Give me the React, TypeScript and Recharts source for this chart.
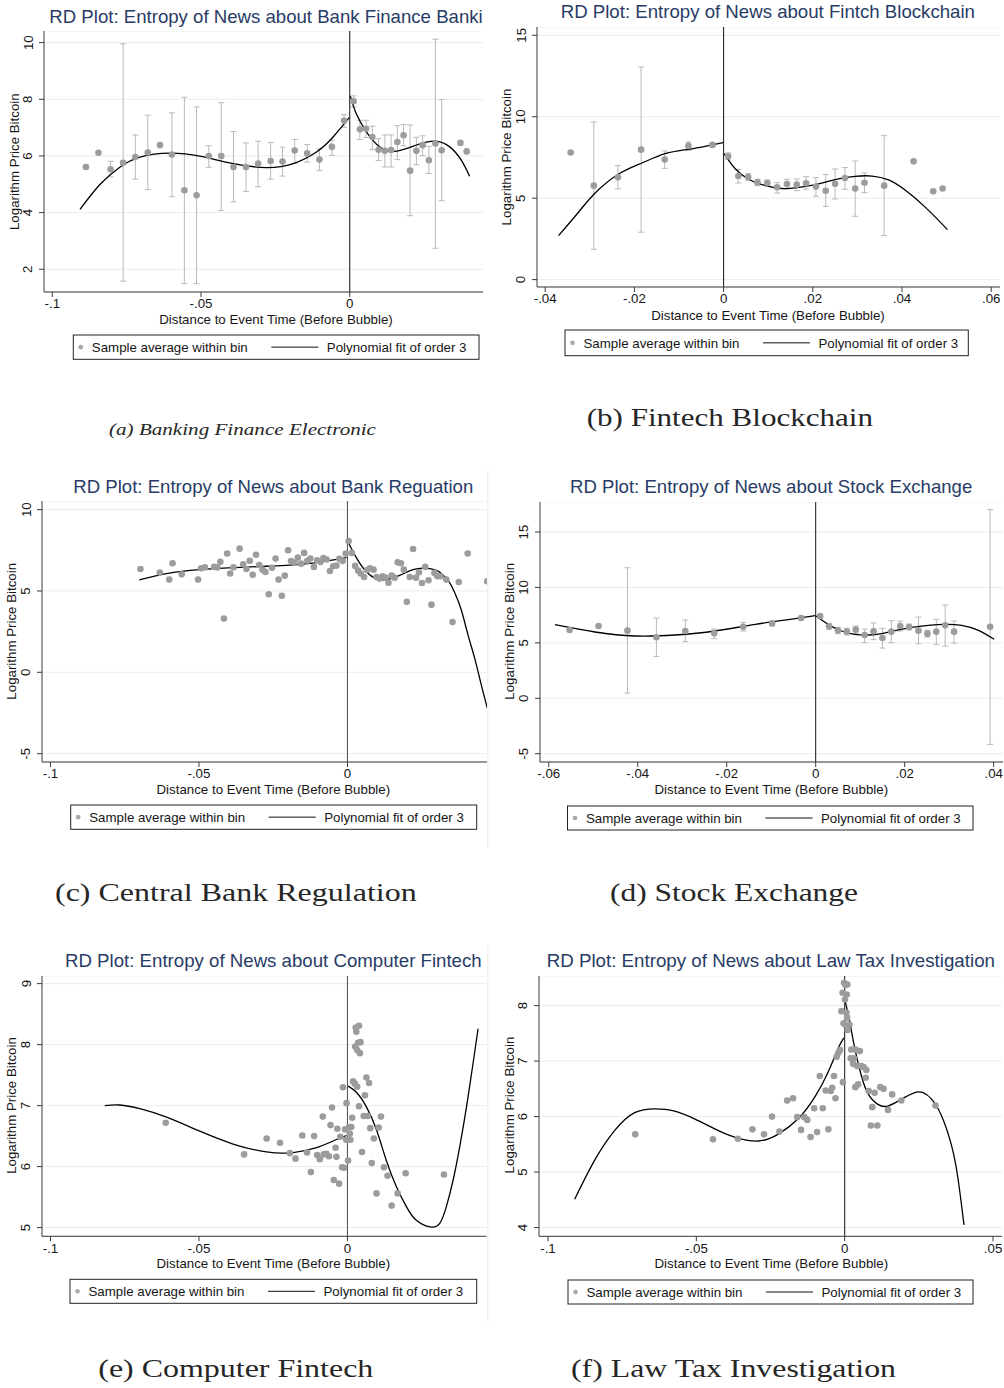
import React from "react";
import {
  ComposedChart,
  Scatter,
  Line,
  XAxis,
  YAxis,
  CartesianGrid,
  ReferenceLine,
  ErrorBar,
} from "recharts";

const SANS = "'Liberation Sans', Arial, Helvetica, sans-serif";
const SERIF = "'Liberation Serif', 'Times New Roman', serif";
const TITLE_COLOR = "#283b66";
const DOT = "#9c9c9c";
const CI = "#b9b9b9";
const AXIS = "#3a3a3a";
const GRID = "#e6eef0";
const TEXT = "#161616";

const X_TITLE = "Distance to Event Time (Before Bubble)";
const Y_TITLE = "Logarithm Price Bitcoin";
const LEGEND_DOT = "Sample average within bin";
const LEGEND_FIT = "Polynomial fit of order 3";

// ---------- (a) Banking Finance Electronic ----------
const aTitle = "RD Plot: Entropy of News about Bank Finance Banki";
const aCaption = "(a) Banking Finance Electronic";
const aXTicks = [-0.1, -0.05, 0];
const aYTicks = [2, 4, 6, 8, 10];
const aBinX = [-0.0887, -0.0845, -0.0804, -0.0762, -0.0721, -0.0679, -0.0638, -0.0598, -0.0556, -0.0515, -0.0474, -0.0432, -0.0391, -0.0349, -0.0308, -0.0266, -0.0226, -0.0185, -0.0143, -0.0102, -0.006, -0.0019, 0.0013, 0.0034, 0.0055, 0.0076, 0.0097, 0.0118, 0.0139, 0.016, 0.0181, 0.0203, 0.0224, 0.0245, 0.0266, 0.0288, 0.0309, 0.0372, 0.0393];
const aBinY = [5.61, 6.11, 5.53, 5.76, 5.96, 6.12, 6.38, 6.05, 4.79, 4.61, 6.0, 6.0, 5.61, 5.61, 5.73, 5.82, 5.8, 6.19, 6.09, 5.87, 6.32, 7.24, 7.93, 6.94, 6.96, 6.67, 6.22, 6.18, 6.21, 6.49, 6.73, 5.48, 6.18, 6.38, 5.85, 6.44, 6.2, 6.46, 6.16];
const aCiLo = [null, null, 5.26, 1.58, 5.18, 4.81, null, 4.56, 1.49, 1.49, 5.6, 4.07, 4.38, 4.75, 4.91, 5.18, 5.29, 5.73, 5.78, 5.48, 6.02, 7.01, 7.73, 6.58, 6.65, 6.22, 5.84, 5.61, 5.61, 5.87, 6.36, 3.89, 5.69, 6.01, 5.38, 2.74, 4.42, null, null];
const aCiHi = [null, null, 5.81, 9.96, 6.74, 7.44, null, 7.52, 8.07, 7.73, 6.36, 7.88, 6.86, 6.46, 6.52, 6.47, 6.31, 6.58, 6.4, 6.25, 6.56, 7.46, 8.12, 7.26, 7.26, 7.05, 6.61, 6.74, 6.74, 7.07, 7.11, 7.09, 6.66, 6.71, 6.34, 10.12, 7.99, null, null];
const aFitLX = [-0.0907, -0.084, -0.0772, -0.0705, -0.0605, -0.0504, -0.0392, -0.028, -0.019, -0.0112, -0.0056, -0.0002];
const aFitLY = [4.11, 4.99, 5.61, 5.96, 6.1, 5.99, 5.73, 5.59, 5.73, 6.14, 6.67, 7.35];
const aFitRX = [0.0002, 0.0022, 0.0056, 0.009, 0.0134, 0.019, 0.0246, 0.0291, 0.0336, 0.0375, 0.0403];
const aFitRY = [8.11, 7.49, 6.85, 6.41, 6.16, 6.26, 6.46, 6.52, 6.32, 5.85, 5.28];

// ---------- (b) Fintech Blockchain ----------
const bTitle = "RD Plot: Entropy of News about Fintch Blockchain";
const bCaption = "(b) Fintech Blockchain";
const bXTicks = [-0.04, -0.02, 0, 0.02, 0.04, 0.06];
const bYTicks = [0, 5, 10, 15];
const bBinX = [-0.0343, -0.0291, -0.0237, -0.0185, -0.0132, -0.0079, -0.0025, 0.001, 0.0033, 0.0055, 0.0076, 0.0098, 0.012, 0.0142, 0.0164, 0.0185, 0.0207, 0.0229, 0.025, 0.0272, 0.0295, 0.0316, 0.036, 0.0426, 0.047, 0.0491];
const bBinY = [7.8, 5.77, 6.28, 7.98, 7.37, 8.21, 8.27, 7.57, 6.36, 6.3, 5.98, 5.93, 5.67, 5.87, 5.83, 5.91, 5.71, 5.46, 5.89, 6.24, 5.59, 5.95, 5.77, 7.26, 5.42, 5.59];
const bCiLo = [null, 1.86, 5.57, 2.91, 6.83, 7.94, 8.14, 7.39, 5.93, 6.1, 5.77, 5.73, 5.32, 5.57, 5.46, 5.55, 5.12, 4.5, 4.95, 5.55, 3.89, 5.34, 2.7, null, null, null];
const bCiHi = [null, 9.68, 7.0, 13.05, 7.9, 8.45, 8.35, 7.78, 6.77, 6.51, 6.16, 6.12, 5.95, 6.16, 6.18, 6.32, 6.26, 6.45, 6.79, 6.88, 7.28, 6.55, 8.84, null, null, null];
const bFitLX = [-0.037, -0.0325, -0.0288, -0.0236, -0.0183, -0.0131, -0.0079, -0.0034, -0.0001];
const bFitLY = [2.7, 4.15, 5.32, 6.47, 7.16, 7.73, 8.0, 8.23, 8.41];
const bFitRX = [0.0001, 0.0026, 0.0056, 0.0086, 0.0123, 0.0161, 0.0206, 0.025, 0.0295, 0.0333, 0.037, 0.0407, 0.0452, 0.0502];
const bFitRY = [7.73, 6.81, 6.16, 5.83, 5.61, 5.63, 5.83, 6.14, 6.34, 6.36, 6.12, 5.5, 4.45, 3.07];

// ---------- (c) Central Bank Regulation ----------
const cTitle = "RD Plot: Entropy of News about Bank Reguation";
const cCaption = "(c) Central Bank Regulation";
const cXTicks = [-0.1, -0.05, 0];
const cYTicks = [-5, 0, 5, 10];
const cBinX = [-0.0697, -0.0632, -0.06, -0.0589, -0.0558, -0.0503, -0.0493, -0.048, -0.0449, -0.0438, -0.0428, -0.0416, -0.0405, -0.0395, -0.0384, -0.0363, -0.0351, -0.034, -0.0329, -0.0319, -0.0308, -0.0297, -0.0286, -0.0276, -0.0265, -0.0254, -0.0242, -0.0232, -0.0221, -0.0211, -0.02, -0.019, -0.0179, -0.0167, -0.0156, -0.0146, -0.0135, -0.0125, -0.0113, -0.0102, -0.0091, -0.0081, -0.007, -0.0059, -0.0048, -0.0037, -0.0027, -0.0016, -0.0006, 0.0004, 0.0015, 0.0026, 0.0036, 0.0045, 0.0056, 0.0066, 0.0076, 0.0088, 0.0098, 0.0108, 0.0118, 0.0128, 0.0138, 0.0149, 0.0159, 0.0169, 0.018, 0.019, 0.02, 0.021, 0.0221, 0.0231, 0.0241, 0.0251, 0.0262, 0.0273, 0.0283, 0.0293, 0.0303, 0.0313, 0.0333, 0.0354, 0.0375, 0.0405, 0.0471];
const cBinY = [6.35, 6.13, 5.7, 6.7, 6.02, 5.7, 6.39, 6.45, 6.48, 6.45, 6.8, 3.3, 7.3, 6.07, 6.45, 7.6, 6.64, 6.35, 6.86, 6.0, 7.23, 6.6, 6.31, 6.17, 4.8, 6.43, 6.99, 5.7, 4.71, 5.94, 7.5, 6.84, 6.74, 7.05, 6.68, 7.34, 6.86, 6.99, 6.48, 6.89, 6.78, 7.03, 6.93, 6.23, 6.52, 6.56, 6.97, 6.84, 7.3, 8.07, 7.34, 6.54, 6.25, 6.07, 5.86, 6.29, 6.39, 6.31, 5.86, 5.76, 5.9, 5.82, 5.51, 5.94, 5.82, 6.76, 6.7, 6.31, 4.34, 5.86, 7.58, 5.82, 6.15, 5.49, 6.48, 5.66, 4.16, 6.11, 5.9, 5.9, 5.7, 3.09, 5.55, 7.3, 5.59];
const cFitLX = [-0.0701, -0.0609, -0.0497, -0.0385, -0.0273, -0.016, -0.0071, -0.0003];
const cFitLY = [5.68, 6.07, 6.31, 6.43, 6.52, 6.64, 6.84, 7.05];
const cFitRX = [0.0002, 0.003, 0.0064, 0.0098, 0.0131, 0.0176, 0.0221, 0.0262, 0.03, 0.0316, 0.0339, 0.0361, 0.0384, 0.0406, 0.0428, 0.0447, 0.0471];
const cFitRY = [8.01, 7.05, 6.17, 5.76, 5.7, 5.96, 6.31, 6.4, 6.27, 6.07, 5.65, 4.9, 3.8, 2.3, 0.9, -0.5, -2.2];

// ---------- (d) Stock Exchange ----------
const dTitle = "RD Plot: Entropy of News about Stock Exchange";
const dCaption = "(d) Stock Exchange";
const dXTicks = [-0.06, -0.04, -0.02, 0, 0.02, 0.04];
const dYTicks = [-5, 0, 5, 10, 15];
const dBinX = [-0.0553, -0.0488, -0.0423, -0.0358, -0.0293, -0.0228, -0.0163, -0.0098, -0.0033, 0.001, 0.003, 0.005, 0.007, 0.009, 0.011, 0.013, 0.015, 0.017, 0.019, 0.021, 0.0231, 0.0251, 0.0271, 0.0291, 0.0311, 0.0392];
const dBinY = [6.16, 6.52, 6.1, 5.5, 6.07, 5.86, 6.46, 6.76, 7.24, 7.42, 6.49, 6.13, 6.01, 6.19, 5.71, 6.04, 5.44, 6.01, 6.52, 6.43, 6.1, 5.83, 6.01, 6.58, 6.01, 6.46];
const dCiLo = [null, null, 0.47, 3.78, 5.11, 5.38, 6.07, 6.52, 7.09, 7.24, 6.22, 5.83, 5.71, 5.86, 5.02, 5.29, 4.53, 5.02, 6.07, 6.16, 4.92, 5.53, 4.86, 4.71, 4.98, -4.16];
const dCiHi = [null, null, 11.78, 7.24, 7.06, 6.25, 6.85, 6.97, 7.39, 7.57, 6.76, 6.4, 6.31, 6.52, 6.25, 6.79, 6.31, 7.0, 6.97, 6.7, 7.33, 6.13, 7.12, 8.41, 6.97, 17.02];
const dFitLX = [-0.0586, -0.0496, -0.0406, -0.0316, -0.0226, -0.0136, -0.0046, -0.0001];
const dFitLY = [6.64, 5.98, 5.62, 5.71, 6.07, 6.67, 7.18, 7.45];
const dFitRX = [0.0001, 0.0028, 0.0058, 0.0088, 0.0118, 0.0148, 0.0178, 0.0216, 0.0253, 0.0291, 0.0328, 0.0366, 0.0401];
const dFitRY = [7.42, 6.67, 6.07, 5.77, 5.71, 5.83, 6.1, 6.4, 6.58, 6.67, 6.58, 6.13, 5.32];

// ---------- (e) Computer Fintech ----------
const eTitle = "RD Plot: Entropy of News about Computer Fintech";
const eCaption = "(e) Computer Fintech";
const eXTicks = [-0.1, -0.05, 0];
const eYTicks = [5, 6, 7, 8, 9];
const eBinX = [-0.0612, -0.0348, -0.0272, -0.0227, -0.0194, -0.0175, -0.0152, -0.0136, -0.0123, -0.0112, -0.0102, -0.0093, -0.0083, -0.008, -0.0071, -0.0062, -0.0057, -0.0052, -0.0046, -0.004, -0.0037, -0.0034, -0.0028, -0.0024, -0.0018, -0.0015, -0.0011, -0.0008, -0.0004, -0.0003, 0.0002, 0.0006, 0.0008, 0.001, 0.0013, 0.0016, 0.0019, 0.0025, 0.0026, 0.0028, 0.003, 0.0033, 0.0033, 0.0036, 0.0039, 0.0039, 0.0042, 0.0044, 0.0049, 0.0055, 0.0059, 0.0064, 0.0068, 0.0073, 0.0077, 0.0082, 0.0089, 0.0098, 0.0105, 0.0113, 0.0123, 0.0135, 0.0149, 0.0169, 0.0196, 0.0325];
const eBinY = [6.72, 6.2, 6.46, 6.39, 6.22, 6.13, 6.51, 6.23, 5.91, 6.5, 6.19, 6.12, 6.82, 6.2, 6.21, 6.17, 6.68, 6.97, 5.78, 6.31, 6.16, 6.62, 5.72, 6.49, 5.99, 7.3, 5.98, 6.61, 6.44, 7.04, 6.1, 6.65, 6.54, 6.44, 6.65, 6.8, 7.4, 7.36, 7.97, 8.28, 8.21, 7.31, 7.91, 8.03, 8.31, 6.99, 7.86, 8.04, 6.24, 6.83, 7.17, 7.46, 6.83, 7.37, 6.63, 6.06, 6.46, 5.56, 6.64, 6.82, 5.99, 5.85, 5.36, 5.56, 5.89, 5.87];
const eFitLX = [-0.0817, -0.0767, -0.0699, -0.0609, -0.0497, -0.0385, -0.0273, -0.0183, -0.0104, -0.0048, -0.0003];
const eFitLY = [7.0, 7.01, 6.95, 6.81, 6.58, 6.37, 6.24, 6.23, 6.31, 6.42, 6.51];
const eFitRX = [0.0002, 0.003, 0.0064, 0.0098, 0.0131, 0.0165, 0.0199, 0.0232, 0.0279, 0.0311, 0.0333, 0.0356, 0.0378, 0.0401, 0.0423, 0.044];
const eFitRY = [7.32, 7.22, 6.98, 6.6, 6.1, 5.67, 5.34, 5.12, 5.01, 5.07, 5.34, 5.78, 6.32, 6.98, 7.69, 8.26];

// ---------- (f) Law Tax Investigation ----------
const fTitle = "RD Plot: Entropy of News about Law Tax Investigation";
const fCaption = "(f) Law Tax Investigation";
const fXTicks = [-0.1, -0.05, 0, 0.05];
const fYTicks = [4, 5, 6, 7, 8];
const fBinX = [-0.0706, -0.0444, -0.036, -0.0311, -0.0272, -0.0245, -0.022, -0.0194, -0.0174, -0.016, -0.0147, -0.0136, -0.0126, -0.0115, -0.0103, -0.0093, -0.0084, -0.0074, -0.0064, -0.0055, -0.0047, -0.0042, -0.0036, -0.0031, -0.0027, -0.0021, -0.0016, -0.0011, -0.0007, -0.0006, -0.0004, -0.0002, 0.0001, 0.0003, 0.0007, 0.0009, 0.0006, 0.0008, 0.0002, 0.0016, 0.001, 0.0022, 0.002, 0.0028, 0.0037, 0.0031, 0.0042, 0.0051, 0.0056, 0.0065, 0.0073, 0.0036, 0.0045, 0.0071, 0.0081, 0.0093, 0.0088, 0.0101, 0.011, 0.012, 0.0131, 0.0146, 0.016, 0.0191, 0.0306];
const fBinY = [5.68, 5.59, 5.6, 5.77, 5.68, 6.0, 5.73, 6.29, 6.33, 5.99, 5.76, 5.99, 5.94, 5.63, 6.15, 5.72, 6.73, 6.15, 6.47, 5.77, 6.46, 6.52, 6.73, 6.33, 7.08, 7.15, 7.2, 7.9, 8.23, 6.62, 7.68, 8.41, 8.11, 8.37, 8.2, 8.38, 7.87, 7.78, 7.66, 7.66, 7.56, 7.21, 7.05, 6.95, 7.21, 7.05, 6.91, 7.18, 6.91, 6.89, 6.84, 6.53, 6.58, 6.7, 6.46, 6.17, 5.84, 6.43, 5.84, 6.53, 6.5, 6.12, 6.4, 6.29, 6.2];
const fFitLX = [-0.091, -0.0843, -0.0775, -0.0708, -0.064, -0.0573, -0.0506, -0.0438, -0.0371, -0.0292, -0.0225, -0.0157, -0.0101, -0.0056, -0.0022, -0.0003];
const fFitLY = [4.51, 5.21, 5.75, 6.07, 6.14, 6.1, 5.96, 5.78, 5.63, 5.56, 5.68, 5.96, 6.35, 6.8, 7.23, 7.42];
const fFitRX = [0.0002, 0.0017, 0.0034, 0.0056, 0.0079, 0.0112, 0.0146, 0.0191, 0.0236, 0.0264, 0.0292, 0.0326, 0.036, 0.0382, 0.0402];
const fFitRY = [8.07, 7.71, 7.23, 6.74, 6.41, 6.22, 6.19, 6.31, 6.43, 6.43, 6.32, 6.02, 5.48, 4.88, 4.05];

type Pt = { x: number; y: number; err?: [number, number] | null };

const pairs = (xs: number[], ys: number[]): Pt[] => xs.map((x, i) => ({ x, y: ys[i] }));

const bins = (xs: number[], ys: number[], lo?: (number | null)[], hi?: (number | null)[]): Pt[] =>
  xs.map((x, i) => {
    const l = lo ? lo[i] : null;
    const h = hi ? hi[i] : null;
    return {
      x,
      y: ys[i],
      err: l == null || h == null ? null : ([ys[i] - l, h - ys[i]] as [number, number]),
    };
  });

type Spec = {
  id: string;
  title: string;
  caption: string;
  xTicks: number[];
  yTicks: number[];
  points: Pt[];
  fitL: Pt[];
  fitR: Pt[];
};

const SPECS: Spec[] = [
  { id: "a", title: aTitle, caption: aCaption, xTicks: aXTicks, yTicks: aYTicks, points: bins(aBinX, aBinY, aCiLo, aCiHi), fitL: pairs(aFitLX, aFitLY), fitR: pairs(aFitRX, aFitRY) },
  { id: "b", title: bTitle, caption: bCaption, xTicks: bXTicks, yTicks: bYTicks, points: bins(bBinX, bBinY, bCiLo, bCiHi), fitL: pairs(bFitLX, bFitLY), fitR: pairs(bFitRX, bFitRY) },
  { id: "c", title: cTitle, caption: cCaption, xTicks: cXTicks, yTicks: cYTicks, points: bins(cBinX, cBinY), fitL: pairs(cFitLX, cFitLY), fitR: pairs(cFitRX, cFitRY) },
  { id: "d", title: dTitle, caption: dCaption, xTicks: dXTicks, yTicks: dYTicks, points: bins(dBinX, dBinY, dCiLo, dCiHi), fitL: pairs(dFitLX, dFitLY), fitR: pairs(dFitRX, dFitRY) },
  { id: "e", title: eTitle, caption: eCaption, xTicks: eXTicks, yTicks: eYTicks, points: bins(eBinX, eBinY), fitL: pairs(eFitLX, eFitLY), fitR: pairs(eFitRX, eFitRY) },
  { id: "f", title: fTitle, caption: fCaption, xTicks: fXTicks, yTicks: fYTicks, points: bins(fBinX, fBinY), fitL: pairs(fFitLX, fFitLY), fitR: pairs(fFitRX, fFitRY) },
];

// Page layout: plot rectangles, axis ranges and text anchors for each panel.
type Layout = {
  plot: { x0: number; x1: number; y0: number; y1: number };
  xDomain: [number, number];
  yDomain: [number, number];
  cutColor: string;
  title: { x: number; y: number; w: number };
  yTitle: { x: number; y: number };
  xTitle: { x: number; y: number };
  legend: { x: number; y: number; w: number; h: number };
  caption: { x: number; y: number; w: number; size: number; italic?: boolean };
};

const LAYOUT: Record<string, Layout> = {
  a: {
    plot: { x0: 44.3, x1: 483.3, y0: 30.7, y1: 291.7 },
    xDomain: [-0.1028, 0.0448],
    yDomain: [1.197, 10.41],
    cutColor: "#111",
    title: { x: 49.3, y: 22.7, w: 433.4 },
    yTitle: { x: 19.5, y: 161.7 },
    xTitle: { x: 276, y: 324 },
    legend: { x: 73.3, y: 335, w: 405.7, h: 24.3 },
    caption: { x: 109, y: 435, w: 267, size: 16.5, italic: true },
  },
  b: {
    plot: { x0: 536.7, x1: 1000, y0: 26.7, y1: 286.7 },
    xDomain: [-0.04184, 0.06204],
    yDomain: [-0.454, 15.51],
    cutColor: "#111",
    title: { x: 560.7, y: 18.3, w: 414.3 },
    yTitle: { x: 511, y: 157 },
    xTitle: { x: 768, y: 320 },
    legend: { x: 565, y: 330, w: 403.3, h: 25.7 },
    caption: { x: 586.7, y: 426, w: 286.3, size: 26 },
  },
  c: {
    plot: { x0: 42.3, x1: 487.3, y0: 500.7, y1: 761.7 },
    xDomain: [-0.10286, 0.047],
    yDomain: [-5.513, 10.53],
    cutColor: "#4a4a4a",
    title: { x: 73.3, y: 492.7, w: 400 },
    yTitle: { x: 16, y: 631.3 },
    xTitle: { x: 273.3, y: 794 },
    legend: { x: 70.7, y: 805, w: 406, h: 24.3 },
    caption: { x: 55, y: 901, w: 361.7, size: 26 },
  },
  d: {
    plot: { x0: 540, x1: 1003.3, y0: 501.7, y1: 761.7 },
    xDomain: [-0.06196, 0.04216],
    yDomain: [-5.75, 17.71],
    cutColor: "#111",
    title: { x: 570, y: 492.7, w: 402.3 },
    yTitle: { x: 514.3, y: 631.3 },
    xTitle: { x: 771.3, y: 794 },
    legend: { x: 567.5, y: 806, w: 405.5, h: 24 },
    caption: { x: 610, y: 901, w: 248, size: 26 },
  },
  e: {
    plot: { x0: 42.3, x1: 486.7, y0: 975.7, y1: 1236 },
    xDomain: [-0.10286, 0.0468],
    yDomain: [4.857, 9.125],
    cutColor: "#4a4a4a",
    title: { x: 65, y: 966.7, w: 416.7 },
    yTitle: { x: 16, y: 1105.5 },
    xTitle: { x: 273.3, y: 1267.7 },
    legend: { x: 70, y: 1279.3, w: 406.7, h: 24 },
    caption: { x: 98.3, y: 1377, w: 275, size: 26 },
  },
  f: {
    plot: { x0: 539.3, x1: 1002.3, y0: 975.7, y1: 1236 },
    xDomain: [-0.10303, 0.05302],
    yDomain: [3.843, 8.533],
    cutColor: "#111",
    title: { x: 546.7, y: 966.7, w: 448.3 },
    yTitle: { x: 514.3, y: 1105 },
    xTitle: { x: 771.3, y: 1267.7 },
    legend: { x: 568, y: 1280, w: 405, h: 24 },
    caption: { x: 571, y: 1377, w: 325, size: 26 },
  },
};

const stataTick = (v: number) => {
  if (v === 0) return "0";
  const s = String(Math.round(v * 1000) / 1000);
  return s.replace(/^(-?)0\./, "$1.");
};

const YTick = (props: any) => {
  const { x, y, payload } = props;
  return (
    <text
      x={x}
      y={y}
      transform={`rotate(-90 ${x} ${y})`}
      textAnchor="middle"
      fontSize={13.3}
      fontFamily={SANS}
      fill={TEXT}
    >
      {payload.value}
    </text>
  );
};

const BinDot = (props: any) => {
  const { cx, cy } = props;
  if (cx == null || cy == null) return null;
  return <circle cx={cx} cy={cy} r={3.3} fill={DOT} />;
};

const Y_AXIS_W = 32;
const X_AXIS_H = 22;

function RDChart({ spec, lay }: { spec: Spec; lay: Layout }) {
  const { x0, x1, y0, y1 } = lay.plot;
  const W = x1 - x0 + Y_AXIS_W;
  const H = y1 - y0 + X_AXIS_H;
  const withCi = spec.points.filter((p) => p.err);
  const noCi = spec.points.filter((p) => !p.err);
  return (
    <div style={{ position: "absolute", left: x0 - Y_AXIS_W, top: y0, width: W, height: H }}>
      <ComposedChart width={W} height={H} margin={{ top: 0, right: 0, bottom: 0, left: 0 }}>
        <CartesianGrid horizontal vertical={false} stroke={GRID} strokeWidth={1} />
        <XAxis
          type="number"
          dataKey="x"
          domain={lay.xDomain}
          ticks={spec.xTicks}
          allowDataOverflow
          interval={0}
          height={X_AXIS_H}
          tickSize={5}
          tickMargin={2}
          tickFormatter={stataTick}
          stroke={AXIS}
          tick={{ fill: TEXT, fontSize: 13.3, fontFamily: SANS }}
        />
        <YAxis
          type="number"
          dataKey="y"
          domain={lay.yDomain}
          ticks={spec.yTicks}
          allowDataOverflow
          interval={0}
          width={Y_AXIS_W}
          tickSize={5}
          tickMargin={6.5}
          stroke={AXIS}
          tick={<YTick />}
        />
        {withCi.length > 0 && (
          <Scatter data={withCi} isAnimationActive={false} shape={<BinDot />}>
            <ErrorBar dataKey="err" direction="y" width={3} stroke={CI} strokeWidth={1} />
          </Scatter>
        )}
        {noCi.length > 0 && <Scatter data={noCi} isAnimationActive={false} shape={<BinDot />} />}
        <Line
          data={spec.fitL}
          dataKey="y"
          type="natural"
          stroke="#000"
          strokeWidth={1.3}
          dot={false}
          activeDot={false}
          isAnimationActive={false}
        />
        <Line
          data={spec.fitR}
          dataKey="y"
          type="natural"
          stroke="#000"
          strokeWidth={1.3}
          dot={false}
          activeDot={false}
          isAnimationActive={false}
        />
        <ReferenceLine x={0} stroke={lay.cutColor} strokeWidth={1} />
      </ComposedChart>
    </div>
  );
}

function PanelText({ spec, lay }: { spec: Spec; lay: Layout }) {
  const lg = lay.legend;
  const cy = lg.y + lg.h / 2;
  const cap = lay.caption;
  return (
    <g>
      <text
        x={lay.title.x}
        y={lay.title.y}
        fontSize={18.4}
        fontFamily={SANS}
        fill={TITLE_COLOR}
        textLength={lay.title.w}
        lengthAdjust="spacingAndGlyphs"
      >
        {spec.title}
      </text>
      <text
        x={lay.yTitle.x}
        y={lay.yTitle.y}
        transform={`rotate(-90 ${lay.yTitle.x} ${lay.yTitle.y})`}
        textAnchor="middle"
        fontSize={13.3}
        fontFamily={SANS}
        fill={TEXT}
      >
        {Y_TITLE}
      </text>
      <text x={lay.xTitle.x} y={lay.xTitle.y} textAnchor="middle" fontSize={13.3} fontFamily={SANS} fill={TEXT}>
        {X_TITLE}
      </text>
      <rect x={lg.x} y={lg.y} width={lg.w} height={lg.h} fill="#fff" stroke="#222" strokeWidth={1} />
      <circle cx={lg.x + 7.5} cy={cy} r={2.3} fill="#a8a8a8" />
      <text x={lg.x + 18.5} y={cy + 4.7} fontSize={13.3} fontFamily={SANS} fill={TEXT}>
        {LEGEND_DOT}
      </text>
      <line x1={lg.x + 198} x2={lg.x + 245} y1={cy} y2={cy} stroke="#111" strokeWidth={1} />
      <text x={lg.x + 253.5} y={cy + 4.7} fontSize={13.3} fontFamily={SANS} fill={TEXT}>
        {LEGEND_FIT}
      </text>
      <text
        x={cap.x}
        y={cap.y}
        fontSize={cap.size}
        fontFamily={SERIF}
        fontStyle={cap.italic ? "italic" : "normal"}
        fill="#262626"
        textLength={cap.w}
        lengthAdjust="spacingAndGlyphs"
      >
        {spec.caption}
      </text>
    </g>
  );
}

export default function App() {
  return (
    <div
      style={{
        position: "absolute",
        left: 0,
        top: 0,
        width: 1004,
        height: 1388,
        background: "#fff",
        overflow: "hidden",
      }}
    >
      {SPECS.map((s) => (
        <RDChart key={s.id} spec={s} lay={LAYOUT[s.id]} />
      ))}
      <svg
        width={1004}
        height={1388}
        style={{ position: "absolute", left: 0, top: 0, pointerEvents: "none" }}
      >
        {SPECS.map((s) => (
          <PanelText key={s.id} spec={s} lay={LAYOUT[s.id]} />
        ))}
        {/* right edges of the two left-column figures that end at the plot border */}
        <line x1={487.8} x2={487.8} y1={470} y2={848} stroke="#ececec" strokeWidth={1} />
        <line x1={487.8} x2={487.8} y1={945} y2={1322} stroke="#ececec" strokeWidth={1} />
      </svg>
    </div>
  );
}
